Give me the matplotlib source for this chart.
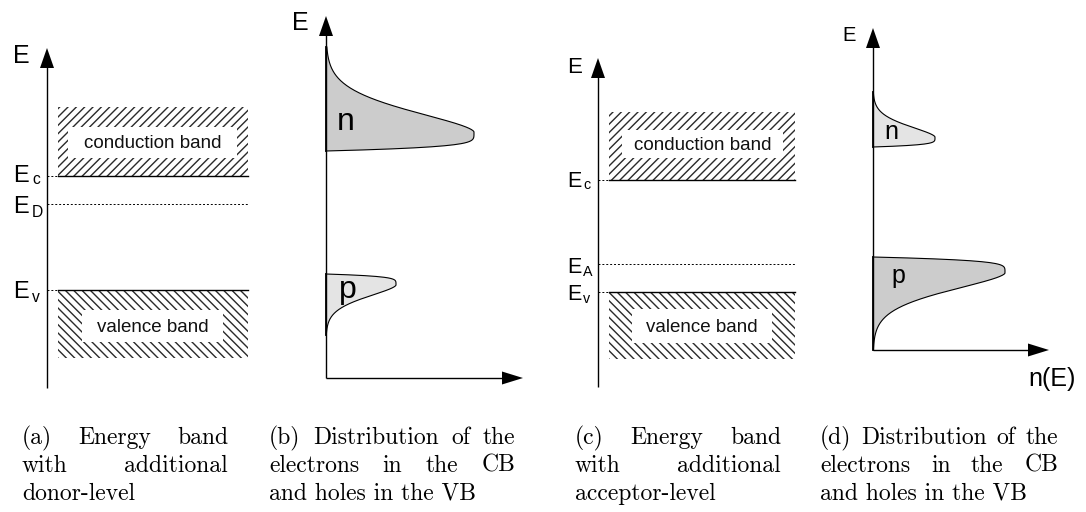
import numpy as np
import matplotlib
matplotlib.use("Agg")
import matplotlib.pyplot as plt
from matplotlib.patches import Rectangle, Polygon
from matplotlib import font_manager as fm

W, H = 1086, 512


def pick_font(*names):
    for name in names:
        try:
            fm.findfont(fm.FontProperties(family=name), fallback_to_default=False)
            return name
        except ValueError:
            continue
    return "DejaVu Sans"


SANS = pick_font("Liberation Sans", "Arial", "DejaVu Sans")
SERIF = pick_font("cmr10", "Liberation Serif", "DejaVu Serif")

# ---- band diagrams: (a) donor doping, (c) acceptor doping ----------------
band_axis_x = [47, 598]
band_axis_bottom = [388, 387]
band_axis_top = [48, 58]
band_left = [58, 609]
band_right = [248, 795]
cb_top = [107, 112]
e_c = [176, 180]           # conduction band edge
e_v = [290, 292]           # valence band edge
vb_bottom = [358, 359]
cb_inner = [(68, 127, 237, 158), (622, 130, 783, 158)]
vb_inner = [(82, 310, 223, 342), (632, 309, 772, 343)]
impurity_level = [204, 264]
impurity_name = ["D", "A"]
label_x = [13, 567]
sub_x = [32, 583]
level_fs = [17, 15.5]
axis_label_base = [63, 73]
axis_label_fs = [18, 16]
# baselines of the E / subscript pairs: (E_c, E_impurity, E_v)
level_base = [(182, 213, 298), (187, 273, 300)]
sub_base = [(184, 217, 302), (189, 276, 303)]

# ---- carrier distributions: (b) n-type, (d) p-type -----------------------
dist_axis_x = [326, 873]
dist_axis_y = [378, 350]
dist_axis_top = [16, 28]
dist_axis_right = [523, 1049]
n_edge = [151, 147]
n_peak = [132, 137]
n_tail = [47, 92]
n_height = [148, 62]
p_edge = [274, 257]
p_peak = [285, 273]
p_tail = [335, 350]
p_height = [70, 132]
n_color = ["#cccccc", "#e4e4e4"]
p_color = ["#e4e4e4", "#cccccc"]
n_label_pos = [(337, 130), (884, 139)]
p_label_pos = [(339, 298), (891, 283)]
carrier_fs = [23, 18]

captions = [
    ["(a) Energy band", "with additional", "donor-level"],
    ["(b) Distribution of the", "electrons in the CB", "and holes in the VB"],
    ["(c) Energy band", "with additional", "acceptor-level"],
    ["(d) Distribution of the", "electrons in the CB", "and holes in the VB"],
]
caption_x0 = [22, 269, 575, 820]
caption_x1 = [228, 515, 781, 1058]
caption_base = [444, 472, 500]
CAP_FS = 17

fig = plt.figure(figsize=(W / 100, H / 100), dpi=100)
ax = fig.add_axes([0, 0, 1, 1])
ax.set_xlim(0, W)
ax.set_ylim(H, 0)
ax.axis("off")

plt.rcParams["hatch.linewidth"] = 1.0


def up_arrow(x, y_bottom, y_tip, head_len=20, head_w=14):
    ax.plot([x, x], [y_bottom, y_tip + head_len * 0.5], color="black", lw=1.0,
            solid_capstyle="butt")
    ax.add_patch(Polygon([(x - head_w / 2, y_tip + head_len), (x + head_w / 2, y_tip + head_len),
                          (x, y_tip)], closed=True, color="black", lw=0))


def right_arrow(y, x_left, x_tip, head_len=21, head_w=13):
    ax.plot([x_left, x_tip - head_len * 0.5], [y, y], color="black", lw=1.0,
            solid_capstyle="butt")
    ax.add_patch(Polygon([(x_tip - head_len, y - head_w / 2), (x_tip - head_len, y + head_w / 2),
                          (x_tip, y)], closed=True, color="black", lw=0))


def hatched_band(x0, y0, x1, y1, inner, hatch, text):
    ax.add_patch(Rectangle((x0, y0), x1 - x0, y1 - y0, facecolor="white",
                           edgecolor="#2a2a2a", lw=0, hatch=hatch))
    ix0, iy0, ix1, iy1 = inner
    ax.add_patch(Rectangle((ix0, iy0), ix1 - ix0, iy1 - iy0, facecolor="white", lw=0))
    ax.text((ix0 + ix1) / 2, (iy0 + iy1) / 2 + 1, text, fontsize=13.5, family=SANS,
            ha="center", va="center", color="#111111")


for i in range(2):
    xa = band_axis_x[i]
    x0, x1 = band_left[i], band_right[i]
    hatched_band(x0, cb_top[i], x1, e_c[i], cb_inner[i], "////", "conduction band")
    hatched_band(x0, e_v[i], x1, vb_bottom[i], vb_inner[i], "\\\\\\\\", "valence band")
    # band edges: solid across the band, dotted back to the energy axis
    for lvl in (e_c[i], e_v[i]):
        ax.plot([x0, x1], [lvl, lvl], color="black", lw=1.0)
        ax.plot([xa, x0], [lvl, lvl], color="black", lw=0.7, ls=(0, (2, 2)))
    ax.plot([xa, x1], [impurity_level[i]] * 2, color="black", lw=0.7, ls=(0, (2, 2)))
    up_arrow(xa, band_axis_bottom[i], band_axis_top[i])
    ax.text(label_x[i], axis_label_base[i], "E", fontsize=axis_label_fs[i], family=SANS,
            ha="left", va="baseline")
    for sub, eb, sb in zip(["c", impurity_name[i], "v"], level_base[i], sub_base[i]):
        ax.text(label_x[i], eb, "E", fontsize=level_fs[i], family=SANS,
                ha="left", va="baseline")
        ax.text(sub_x[i], sb, sub, fontsize=level_fs[i] * 0.66, family=SANS,
                ha="left", va="baseline")


def carrier_profile(edge, peak, tail, height, num=300):
    direction = np.sign(tail - edge)
    d = np.linspace(0, abs(tail - edge), num)
    u = d / abs(peak - edge)
    rise = 1 - np.clip(1 - u, 0, None) ** 5
    decay = np.exp(-(np.clip(u - 1, 0, None) / 1.6) ** 1.6)
    f = np.where(u < 1, rise, decay)
    return height * f, edge + direction * d


for i in range(2):
    xa, ya = dist_axis_x[i], dist_axis_y[i]
    for edge, peak, tail, height, col in (
        (n_edge[i], n_peak[i], n_tail[i], n_height[i], n_color[i]),
        (p_edge[i], p_peak[i], p_tail[i], p_height[i], p_color[i]),
    ):
        cx, cy = carrier_profile(edge, peak, tail, height)
        xs = np.concatenate([[0], cx, [0]]) + xa
        ys = np.concatenate([[edge], cy, [tail]])
        ax.fill(xs, ys, color=col, lw=0)
        ax.plot(xa + cx, cy, color="black", lw=0.8)
        ax.plot([xa, xa], [edge, tail], color="black", lw=1.3)
    up_arrow(xa, ya, dist_axis_top[i])
    right_arrow(ya, xa, dist_axis_right[i])
    ax.text(n_label_pos[i][0], n_label_pos[i][1], "n", fontsize=carrier_fs[i],
            family=SANS, ha="left", va="baseline")
    ax.text(p_label_pos[i][0], p_label_pos[i][1], "p", fontsize=carrier_fs[i],
            family=SANS, ha="left", va="baseline")

ax.text(292, 30, "E", fontsize=18, family=SANS, ha="left", va="baseline")
ax.text(842, 41, "E", fontsize=14.5, family=SANS, ha="left", va="baseline")
ax.text(1028, 386, "n(E)", fontsize=18, family=SANS, ha="left", va="baseline")

# ---- captions, justified like a two-column text block --------------------
renderer = fig.canvas.get_renderer()


def justified(words, x0, x1, y, size):
    items = [ax.text(0, y, w, fontsize=size, family=SERIF, ha="left", va="baseline")
             for w in words]
    widths = [t.get_window_extent(renderer).width for t in items]
    natural = size * 100 / 72 * 0.333
    gap = max((x1 - x0 - sum(widths)) / max(len(words) - 1, 1), natural * 0.8)
    x = x0
    for t, w in zip(items, widths):
        t.set_x(x)
        x += w + gap


for c in range(4):
    lines = captions[c]
    for k, line in enumerate(lines):
        y = caption_base[k]
        if k < 2:
            justified(line.split(" "), caption_x0[c], caption_x1[c], y, CAP_FS)
        else:
            ax.text(caption_x0[c], y, line, fontsize=CAP_FS, family=SERIF,
                    ha="left", va="baseline")

fig.savefig("out.png", dpi=100)
